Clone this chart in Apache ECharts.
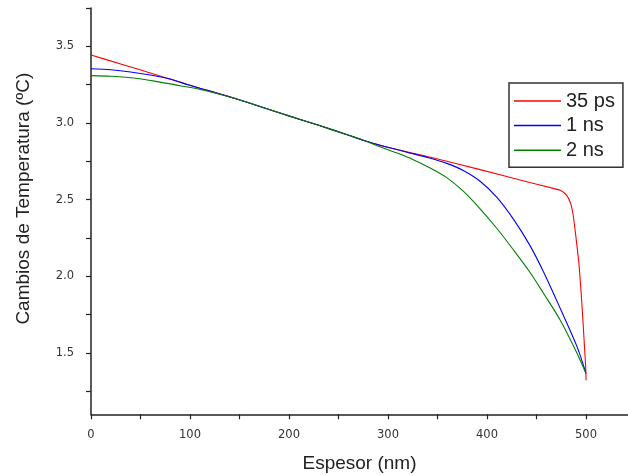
<!DOCTYPE html>
<html>
<head>
<meta charset="utf-8">
<script src="https://cdn.jsdelivr.net/npm/echarts@6/dist/echarts.min.js"></script>
<style>html,body{margin:0;padding:0;background:#fff}#c{width:628px;height:475px}</style>
</head>
<body>
<div id="c"></div>
<script>
var seriesNames = ['35 ps', '1 ns', '2 ns'];
var xTickLabels = [0, 100, 200, 300, 400, 500];
var xTicks = [0, 50, 100, 150, 200, 250, 300, 350, 400, 450, 500];
var yTickLabels = [1.5, 2.0, 2.5, 3.0, 3.5];
var yTicks = [1.25, 1.5, 1.75, 2.0, 2.25, 2.5, 2.75, 3.0, 3.25, 3.5, 3.75];

var redX = [0, 30, 64, 98, 148, 199, 230, 258, 275, 292, 320, 342, 393, 443, 466, 474, 480.5, 484.5, 487, 489, 491, 493, 495, 496, 497, 498, 499, 499.7, 500];
var redY = [3.443, 3.385, 3.318, 3.250, 3.155, 3.048, 2.985, 2.925, 2.888, 2.855, 2.810, 2.778, 2.696, 2.612, 2.575, 2.561, 2.528, 2.474, 2.400, 2.300, 2.190, 2.070, 1.900, 1.800, 1.700, 1.590, 1.480, 1.400, 1.322];

var blueX = [0, 20, 40, 60, 80, 98, 148, 199, 230, 258, 275, 292, 320, 342, 360, 376, 393, 410, 427, 443, 457, 474, 491, 500];
var blueY = [3.354, 3.347, 3.333, 3.313, 3.287, 3.250, 3.155, 3.048, 2.985, 2.925, 2.888, 2.855, 2.808, 2.772, 2.735, 2.690, 2.620, 2.515, 2.370, 2.205, 2.030, 1.790, 1.540, 1.366];

var greenX = [0, 20, 40, 64, 90, 115, 148, 199, 230, 258, 275, 292, 310, 325, 342, 359, 376, 393, 410, 427, 443, 457, 474, 491, 500];
var greenY = [3.309, 3.305, 3.295, 3.273, 3.243, 3.212, 3.155, 3.048, 2.985, 2.925, 2.888, 2.845, 2.802, 2.762, 2.708, 2.645, 2.555, 2.440, 2.312, 2.170, 2.030, 1.890, 1.714, 1.497, 1.366];

function pairs(xs, ys) { return xs.map(function (x, i) { return [x, ys[i]]; }); }

var FONT = "'Liberation Sans', Arial, sans-serif";
var TICKFONT = "'DejaVu Sans', sans-serif";
var chart = echarts.init(document.getElementById('c'), null, {renderer: 'canvas'});

chart.setOption({
  animation: false,
  backgroundColor: '#fff',
  grid: {left: 91, top: 8, right: 0, height: 406.3, containLabel: false, outerBoundsMode: 'none'},
  legend: {
    orient: 'vertical', left: 509, top: 83,
    padding: [8, 8, 7, 5], itemGap: 4.6, itemWidth: 47, itemHeight: 1.5,
    icon: 'rect', borderColor: '#333', borderWidth: 1.5,
    textStyle: {fontFamily: FONT, fontSize: 20, color: '#222', lineHeight: 20},
    data: seriesNames
  },
  xAxis: {
    type: 'value', min: 0, max: 542.4,
    name: 'Espesor (nm)', nameLocation: 'middle', nameGap: 40,
    nameTextStyle: {fontFamily: FONT, fontSize: 19, color: '#222'},
    axisLine: {show: true, onZero: false, lineStyle: {color: '#222', width: 1.5}},
    axisTick: {show: true, inside: false, length: 5, customValues: xTicks, lineStyle: {color: '#222', width: 1.2}},
    axisLabel: {
      fontFamily: TICKFONT, fontSize: 11.5, color: '#333', margin: 15,
      customValues: xTickLabels,
      formatter: function (v) { return String(v); }
    },
    splitLine: {show: false}
  },
  yAxis: {
    type: 'value', min: 1.1, max: 3.75,
    name: 'Cambios de Temperatura (ºC)', nameLocation: 'middle', nameGap: 58,
    nameTextStyle: {fontFamily: FONT, fontSize: 19, color: '#222', padding: [0, 0, 0, 25]},
    axisLine: {show: true, onZero: false, lineStyle: {color: '#222', width: 1.5}},
    axisTick: {show: true, inside: false, length: 5, customValues: yTicks, lineStyle: {color: '#222', width: 1.2}},
    axisLabel: {
      fontFamily: TICKFONT, fontSize: 11.5, color: '#333', margin: 17,
      customValues: yTickLabels,
      formatter: function (v) { return v.toFixed(1); }
    },
    splitLine: {show: false}
  },
  series: [
    {name: seriesNames[0], type: 'line', data: pairs(redX, redY), symbol: 'none', smooth: 0.25,
     lineStyle: {color: '#ff0000', width: 1.1}, itemStyle: {color: '#ff0000'}},
    {name: seriesNames[1], type: 'line', data: pairs(blueX, blueY), symbol: 'none', smooth: 0.3,
     lineStyle: {color: '#0000ff', width: 1.1}, itemStyle: {color: '#0000ff'}},
    {name: seriesNames[2], type: 'line', data: pairs(greenX, greenY), symbol: 'none', smooth: 0.3,
     lineStyle: {color: '#008000', width: 1.1}, itemStyle: {color: '#008000'}}
  ]
});
</script>
</body>
</html>
